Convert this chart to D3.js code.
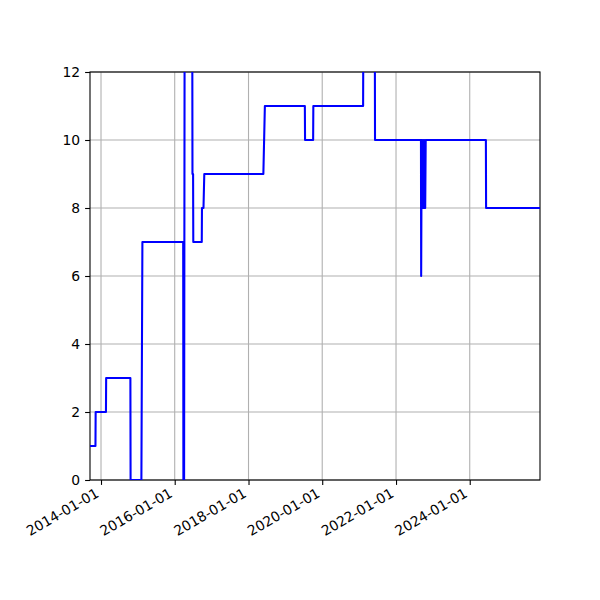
<!DOCTYPE html>
<html>
<head>
<meta charset="utf-8">
<script src="https://cdn.jsdelivr.net/npm/d3@7"></script>
<style>
  html, body { margin: 0; padding: 0; background: #fff; }
  svg { display: block; }
  text { font-family: "DejaVu Sans", sans-serif; }
</style>
</head>
<body>
<svg id="chart" width="600" height="600"></svg>
<script>
// ---- data ----
const dates = [
  "2013-09-14","2013-11-07","2013-11-09","2014-02-19","2014-02-21","2014-10-19","2014-10-21",
  "2015-02-05","2015-02-15","2016-03-25","2016-03-27","2016-04-03","2016-04-08","2016-06-23",
  "2016-06-25","2016-07-01","2016-07-03","2016-09-25","2016-09-27","2016-10-12","2016-10-20",
  "2018-05-28","2018-06-12","2019-07-13","2019-07-15","2019-10-03","2019-10-05","2021-02-09",
  "2021-02-11","2021-06-05","2021-06-07","2022-09-05","2022-09-07","2022-09-12","2022-09-17",
  "2022-09-22","2022-09-27","2022-10-02","2022-10-07","2022-10-12","2022-10-17","2022-10-22",
  "2024-06-09","2024-06-11","2025-11-27"
];
const values = [
  1,1,2,2,3,3,0,
  0,7,7,0,0,13,13,
  9,9,7,7,8,8,9,
  9,11,11,10,10,11,11,
  13,13,10,10,6,10,8,
  10,8,10,8,10,8,10,
  10,8,8
];
const xTickLabels = ["2014-01-01","2016-01-01","2018-01-01","2020-01-01","2022-01-01","2024-01-01"];
const yTicks = [0,2,4,6,8,10,12];
const xDomain = ["2013-09-14","2025-11-27"];
const yDomain = [0,12];

// ---- layout ----
const parse = d3.utcParse("%Y-%m-%d");
const L = 90, R = 540, T = 72, B = 480;
const svg = d3.select("#chart");
const x = d3.scaleUtc().domain(xDomain.map(parse)).range([L, R]);
const y = d3.scaleLinear().domain(yDomain).range([B, T]);
const fs = 13.9;

// grid
const grid = svg.append("g");
grid.selectAll("line.gx").data(xTickLabels).join("line")
  .attr("x1", d => x(parse(d))).attr("x2", d => x(parse(d)))
  .attr("y1", T).attr("y2", B)
  .attr("stroke", "#b0b0b0").attr("stroke-width", 1.1);
grid.selectAll("line.gy").data(yTicks).join("line")
  .attr("x1", L).attr("x2", R)
  .attr("y1", d => y(d)).attr("y2", d => y(d))
  .attr("stroke", "#b0b0b0").attr("stroke-width", 1.1);

// clip
svg.append("clipPath").attr("id", "clip").append("rect")
  .attr("x", L).attr("y", T).attr("width", R - L).attr("height", B - T);

// spines
svg.append("rect").attr("x", L).attr("y", T).attr("width", R - L).attr("height", B - T)
  .attr("fill", "none").attr("stroke", "#000").attr("stroke-width", 1.1);

const pts = dates.map((d, i) => [parse(d), values[i]]);
const line = d3.line().x(d => x(d[0])).y(d => y(d[1]));
svg.append("path").attr("d", line(pts))
  .attr("clip-path", "url(#clip)")
  .attr("fill", "none").attr("stroke", "#0000ff")
  .attr("stroke-width", 2.08).attr("stroke-linejoin", "round").attr("stroke-linecap", "butt");

// y axis
const yAxis = d3.axisLeft(y).tickValues(yTicks).tickSize(4.9).tickPadding(4.9).tickFormat(d3.format("d"));
const gy = svg.append("g").attr("transform", `translate(${L},0)`).call(yAxis);
gy.select(".domain").remove();
gy.selectAll(".tick line").attr("stroke", "#000").attr("stroke-width", 1.1);
gy.selectAll(".tick text").attr("font-size", fs).attr("font-family", "DejaVu Sans").attr("fill", "#000");

// x axis
const xAxis = d3.axisBottom(x).tickValues(xTickLabels.map(parse)).tickSize(4.9).tickFormat(d3.utcFormat("%Y-%m-%d"));
const gx = svg.append("g").attr("transform", `translate(0,${B})`).call(xAxis);
gx.select(".domain").remove();
gx.selectAll(".tick line").attr("stroke", "#000").attr("stroke-width", 1.1);
gx.selectAll(".tick text")
  .attr("font-size", fs).attr("font-family", "DejaVu Sans").attr("fill", "#000")
  .attr("text-anchor", "end").attr("dy", null).attr("y", null)
  .attr("transform", "translate(-1.7,16) rotate(-30)");
</script>
</body>
</html>
